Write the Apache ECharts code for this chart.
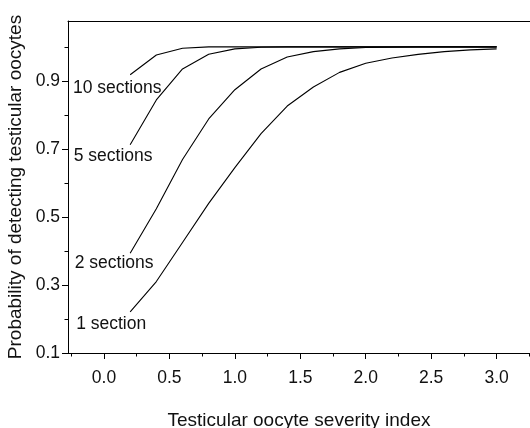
<!DOCTYPE html>
<html>
<head>
<meta charset="utf-8">
<script src="https://cdn.jsdelivr.net/npm/echarts@6/dist/echarts.min.js"></script>
<style>html,body{margin:0;padding:0;background:#fff;}#c{width:530px;height:428px;}</style>
</head>
<body>
<div id="c"></div>
<script>
// Data
const severity = [0.2, 0.4, 0.6, 0.8, 1.0, 1.2, 1.4, 1.6, 1.8, 2.0, 2.2, 2.4, 2.6, 2.8, 3.0];
const oneSection = [0.221, 0.310, 0.425, 0.540, 0.645, 0.745, 0.826, 0.882, 0.925, 0.952, 0.967, 0.978, 0.986, 0.991, 0.994];
const twoSections = [0.393, 0.524, 0.669, 0.788, 0.874, 0.935, 0.970, 0.986, 0.994, 0.998, 0.999, 1.0, 1.0, 1.0, 1.0];
const fiveSections = [0.712, 0.844, 0.935, 0.978, 0.994, 0.999, 1.0, 1.0, 1.0, 1.0, 1.0, 1.0, 1.0, 1.0, 1.0];
const tenSections = [0.918, 0.976, 0.996, 1.0, 1.0, 1.0, 1.0, 1.0, 1.0, 1.0, 1.0, 1.0, 1.0, 1.0, 1.0];
const seriesNames = ['1 section', '2 sections', '5 sections', '10 sections'];
const xMajorTicks = [0, 0.5, 1.0, 1.5, 2.0, 2.5, 3.0];
const xMinorTicks = [-0.25, 0.25, 0.75, 1.25, 1.75, 2.25, 2.75, 3.25];
const yMajorTicks = [0.1, 0.3, 0.5, 0.7, 0.9];
const yMinorTicks = [0.2, 0.4, 0.6, 0.8, 1.0];
const xTitle = 'Testicular oocyte severity index';
const yTitle = 'Probability of detecting testicular oocytes';

const FONT = '"Liberation Sans", Arial, Helvetica, sans-serif';
const XMIN = -0.275, XMAX = 3.255, YMIN = 0.1, YMAX = 1.076;
const axisLine = {show: true, onZero: false, lineStyle: {color: '#000', width: 1}};
const noLine = {show: false, onZero: false};

const labelOffsets = [[-19, 12], [-16, 10], [-17, 11], [-13, 13]];

function makeLine(values, idx) {
  return {
    name: seriesNames[idx],
    type: 'line',
    xAxisIndex: 0,
    yAxisIndex: 0,
    data: values.map((v, i) => [severity[i], v]),
    symbol: 'none',
    showSymbol: false,
    smooth: false,
    silent: true,
    animation: false,
    lineStyle: {color: '#000', width: 1.1},
    markPoint: {
      silent: true,
      animation: false,
      symbol: 'circle',
      symbolSize: 1,
      itemStyle: {color: 'rgba(0,0,0,0)'},
      data: [{
        coord: [severity[0], values[0]],
        label: {
          show: true,
          formatter: seriesNames[idx],
          position: 'inside',
          offset: labelOffsets[idx],
          fontFamily: FONT,
          fontSize: 17.5,
          color: '#111'
        }
      }]
    }
  };
}

const chart = echarts.init(document.getElementById('c'), null, {renderer: 'canvas'});
chart.setOption({
  backgroundColor: '#fff',
  animation: false,
  grid: {left: 68, right: 0, top: 21, bottom: 75, containLabel: false, outerBoundsMode: 'none'},
  xAxis: [
    {
      type: 'value', position: 'bottom', min: XMIN, max: XMAX,
      axisLine: axisLine,
      splitLine: {show: false},
      axisTick: {show: true, inside: false, length: 6, customValues: xMajorTicks, lineStyle: {color: '#000'}},
      axisLabel: {show: true, customValues: xMajorTicks, margin: 16, fontFamily: FONT, fontSize: 17.5, color: '#111',
        formatter: v => v.toFixed(1)},
      name: xTitle, nameLocation: 'middle', nameGap: 58,
      nameTextStyle: {fontFamily: FONT, fontSize: 19, color: '#111'}
    },
    {
      type: 'value', position: 'bottom', min: XMIN, max: XMAX,
      axisLine: noLine,
      splitLine: {show: false},
      axisTick: {show: true, inside: false, length: 3.5, customValues: xMinorTicks, lineStyle: {color: '#000'}},
      axisLabel: {show: false}
    },
    {
      type: 'value', position: 'top', min: XMIN, max: XMAX,
      axisLine: axisLine,
      splitLine: {show: false},
      axisTick: {show: false},
      axisLabel: {show: false}
    }
  ],
  yAxis: [
    {
      type: 'value', position: 'left', min: YMIN, max: YMAX,
      axisLine: axisLine,
      splitLine: {show: false},
      axisTick: {show: true, inside: false, length: 6, customValues: yMajorTicks, lineStyle: {color: '#000'}},
      axisLabel: {show: true, customValues: yMajorTicks, margin: 8, fontFamily: FONT, fontSize: 17.5, color: '#111',
        formatter: v => v.toFixed(1)},
      name: yTitle, nameLocation: 'middle', nameGap: 43, nameRotate: 90,
      nameTextStyle: {fontFamily: FONT, fontSize: 19, color: '#111'}
    },
    {
      type: 'value', position: 'left', min: YMIN, max: YMAX,
      axisLine: noLine,
      splitLine: {show: false},
      axisTick: {show: true, inside: false, length: 3.5, customValues: yMinorTicks, lineStyle: {color: '#000'}},
      axisLabel: {show: false}
    }
  ],
  series: [
    makeLine(oneSection, 0),
    makeLine(twoSections, 1),
    makeLine(fiveSections, 2),
    makeLine(tenSections, 3)
  ]
});
</script>
</body>
</html>
